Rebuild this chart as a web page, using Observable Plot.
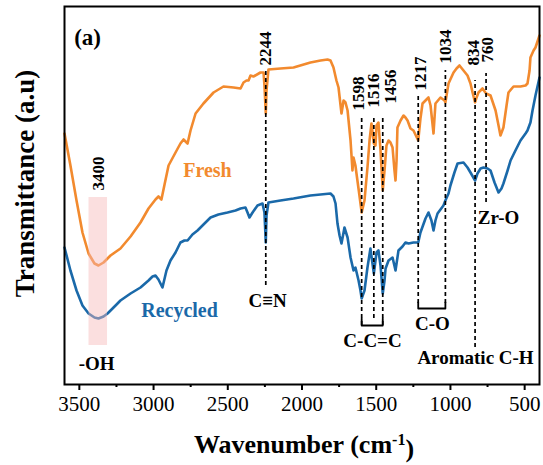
<!DOCTYPE html>
<html>
<head>
<meta charset="utf-8">
<script src="https://cdn.jsdelivr.net/npm/d3@7"></script>
<script src="https://cdn.jsdelivr.net/npm/@observablehq/plot@0.6"></script>
<style>
  html, body { margin: 0; padding: 0; background: #fff; }
  #chart { width: 543px; height: 465px; }
</style>
</head>
<body>
<div id="chart"></div>
<script>
// ---- Data (wavenumber in cm-1, transmittance in arbitrary units) ----
const freshWn = [3600,3560,3519,3479,3438,3398,3371,3337,3290,3223,3155,3088,3034,2987,2967,2947,2926,2899,2852,2819,2798,2771,2751,2717,2664,2596,2529,2461,2414,2394,2374,2360,2347,2327,2280,2259,2253,2244,2239,2226,2145,2057,1943,1875,1828,1808,1788,1768,1754,1734,1720,1707,1693,1673,1660,1653,1640,1633,1613,1598,1579,1559,1545,1532,1516,1505,1498,1485,1471,1456,1444,1431,1417,1404,1390,1377,1370,1363,1357,1336,1316,1303,1289,1269,1249,1217,1202,1188,1168,1148,1134,1114,1101,1067,1040,1034,1013,979,959,939,912,885,865,851,834,824,811,784,760,730,696,676,663,643,622,609,575,528,494,481,467,461,440,427,400];
const freshT  = [251,219,184,152,131,121,119,122,129,136,148,162,176,185,188,185,200,219,232,241,245,241,254,271,281,292,298,297,296,302,304,304,309,308,312,312,299,271,294,315,316,317,322,324,325,324,317,304,297,271,284,282,274,244,214,227,219,211,189,172,184,217,244,261,241,239,259,262,234,194,214,239,244,242,237,214,204,224,257,264,269,267,264,256,254,244,266,281,284,287,279,251,281,287,284,282,301,312,316,319,314,309,301,292,282,287,292,296,291,289,274,259,249,257,279,292,298,298,299,301,314,327,334,337,349];

const recycledWn = [3600,3560,3519,3479,3438,3398,3371,3337,3310,3256,3223,3155,3088,3034,3007,2987,2967,2940,2913,2886,2852,2819,2792,2771,2738,2704,2650,2616,2563,2502,2448,2414,2381,2367,2354,2333,2300,2266,2253,2244,2239,2226,2145,2057,1943,1875,1808,1788,1774,1761,1747,1734,1720,1714,1693,1673,1653,1640,1619,1606,1598,1579,1559,1539,1516,1498,1485,1471,1456,1444,1437,1417,1390,1370,1350,1323,1303,1282,1249,1217,1202,1168,1148,1128,1114,1101,1087,1047,1034,1013,1000,973,952,912,885,865,834,818,797,777,750,730,703,676,656,643,615,595,562,528,494,481,461,447,427,400];
const recycledT  = [137,114,94,79,71,67,66,68,71,79,84,91,97,104,108,109,105,97,114,124,132,142,144,144,150,154,162,167,170,172,174,176,177,172,167,172,179,181,172,142,169,182,184,186,189,190,191,188,181,161,149,141,152,157,147,127,114,117,104,94,86,94,117,136,111,132,134,119,91,104,116,124,127,114,134,138,142,141,142,142,152,166,172,164,154,164,171,179,184,191,199,212,221,222,217,212,204,211,216,217,216,214,202,192,196,201,214,224,234,244,251,254,262,274,289,307];

// ---- Annotations ----
const peakWn     = [2244, 1598, 1516, 1456, 1217, 1034, 834, 760];
const peakLabels = ["2244","1598","1516","1456","1217","1034","834","760"];
const peakLabelWn = [2244, 1619, 1516, 1404, 1202, 1034, 845, 752];
const peakLabelT  = [319, 274, 277, 281, 294, 321, 319, 322];
const peakLineTop = [316, 269, 266, 269, 289, 314, 304, 311];
const peakLineBot = [99, 59, 66, 59, 81, 81, 37, 182];

const groupNames = ["C≡N", "C-C=C", "C-O", "Aromatic C-H", "Zr-O", "-OH"];
const groupWn    = [2232, 1525, 1121, 831, 676, 3384];
const groupT     = [84, 44, 61, 27, 167, 21];

const majorTicks = [3500, 3000, 2500, 2000, 1500, 1000, 500];
const minorTicks = [3250, 2750, 2250, 1750, 1250, 750];

const ohBand = {wn1: 3435, wn2: 3310, t1: 39, t2: 187, center: 3371, labelT: 194};

// ---- Build tables ----
const fresh = freshWn.map((w, i) => ({wn: w, t: freshT[i]}));
const recycled = recycledWn.map((w, i) => ({wn: w, t: recycledT[i]}));
const peaks = peakWn.map((w, i) => ({wn: w, label: peakLabels[i], lwn: peakLabelWn[i], lt: peakLabelT[i], top: peakLineTop[i], bot: peakLineBot[i]}));
const groups = groupNames.map((n, i) => ({name: n, wn: groupWn[i], t: groupT[i]}));
const brackets = [
  [{wn:1598,t:66},{wn:1598,t:59},{wn:1456,t:59},{wn:1456,t:66}],
  [{wn:1217,t:82},{wn:1217,t:76},{wn:1034,t:76},{wn:1034,t:82}]
];

const ORANGE = "#f28a2e";
const BLUE = "#1a69a9";
const FONT = "'Liberation Serif', 'Times New Roman', Times, serif";

const plot = Plot.plot({
  width: 543,
  height: 465,
  marginLeft: 64,
  marginRight: 4,
  marginTop: 6,
  marginBottom: 81,
  style: {fontFamily: FONT, fontSize: "18px", background: "#fff", color: "#000"},
  x: {domain: [3600, 400], axis: null, label: null},
  y: {domain: [0, 378], axis: null, label: null},
  marks: [
    Plot.line(fresh, {x: "wn", y: "t", stroke: ORANGE, strokeWidth: 2.6}),
    Plot.line(recycled, {x: "wn", y: "t", stroke: BLUE, strokeWidth: 2.6}),
    Plot.rect([ohBand], {x1: "wn1", x2: "wn2", y1: "t1", y2: "t2", fill: "#f6b8b8", fillOpacity: 0.45}),
    Plot.ruleX(peaks, {x: "wn", y1: "bot", y2: "top", stroke: "#000", strokeWidth: 1.7, strokeDasharray: "4,3"}),
    ...brackets.map(b => Plot.line(b, {x: "wn", y: "t", stroke: "#000", strokeWidth: 1.8})),
    Plot.text(peaks, {x: "lwn", y: "lt", text: "label", rotate: -90, textAnchor: "start", fontSize: 17, fontWeight: "bold", fill: "#000"}),
    Plot.text([ohBand], {x: "center", y: "labelT", text: () => "3400", rotate: -90, textAnchor: "start", fontSize: 17, fontWeight: "bold", fill: "#000"}),
    Plot.text(groups, {x: "wn", y: "t", text: "name", fontSize: 19, fontWeight: "bold", fill: "#000"}),
    Plot.text(["Fresh"], {x: 2637, y: 214, text: d => d, fontSize: 20, fontWeight: "bold", fill: ORANGE}),
    Plot.text(["Recycled"], {x: 2825, y: 74, text: d => d, fontSize: 20, fontWeight: "bold", fill: BLUE}),
    Plot.text(["(a)"], {x: 3535, y: 347, text: d => d, textAnchor: "start", fontSize: 23, fontWeight: "bold", fill: "#000"}),
    Plot.frame({stroke: "#000", strokeWidth: 2}),
    Plot.axisX({ticks: majorTicks, tickSize: 6, tickPadding: 6, strokeWidth: 2, fontSize: 21, tickFormat: d => String(d), label: null}),
    Plot.axisX({ticks: minorTicks, tickSize: 3, strokeWidth: 2, tickFormat: () => "", label: null}),
    Plot.text(["Transmittance (a.u)"], {frameAnchor: "left", dx: -39, dy: -12, rotate: -90, textAnchor: "middle", text: d => d, fontSize: 27, fontWeight: "bold", fill: "#000"}),
    Plot.text(["Wavenumber (cm-1)"], {frameAnchor: "bottom", dx: 2, dy: 68, textAnchor: "middle", text: d => d, fontSize: 26, fontWeight: "bold", fill: "#000", className: "xlabel"})
  ]
});

// superscript for the unit
const xl = plot.querySelector("g.xlabel text");
if (xl) {
  xl.textContent = "";
  const ns = "http://www.w3.org/2000/svg";
  const a = document.createElementNS(ns, "tspan"); a.textContent = "Wavenumber (cm";
  const b = document.createElementNS(ns, "tspan"); b.textContent = "-1"; b.setAttribute("dy", "-0.45em"); b.setAttribute("font-size", "16");
  const c = document.createElementNS(ns, "tspan"); c.textContent = ")"; c.setAttribute("dy", "0.45em");
  xl.append(a, b, c);
}
document.getElementById("chart").append(plot);
</script>
</body>
</html>
